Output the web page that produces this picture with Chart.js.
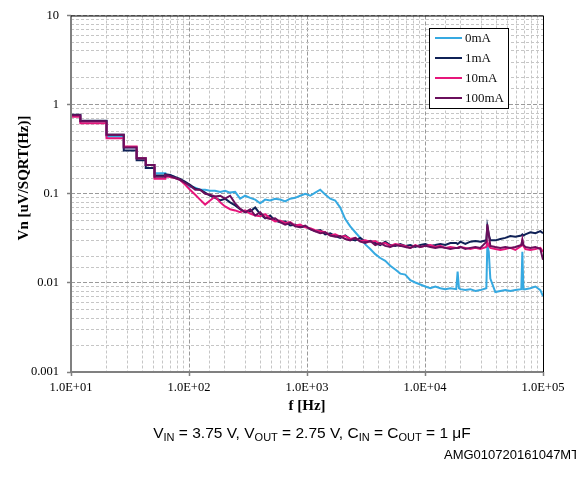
<!DOCTYPE html>
<html>
<head>
<meta charset="utf-8">
<script src="https://cdn.jsdelivr.net/npm/chart.js@4"></script>
<style>
  html, body { margin:0; padding:0; background:#fff; overflow:hidden; }
  #wrap { position:relative; width:576px; height:477px; }
  #cap { position:absolute; left:312px; top:424px; transform:translateX(-50%); white-space:nowrap;
         font-family:"Liberation Sans", Arial, sans-serif; font-size:15.5px; line-height:18px; color:#000; }
  #cap sub { font-size:11px; vertical-align:-3px; line-height:0; }
  #code { position:absolute; left:444px; top:447px; white-space:nowrap;
          font-family:"Liberation Sans", Arial, sans-serif; font-size:13px; line-height:15px; color:#000; }
</style>
</head>
<body>
<div id="wrap">
  <canvas id="c"></canvas>
  <div id="cap">V<sub>IN</sub> = 3.75 V, V<sub>OUT</sub> = 2.75 V, C<sub>IN</sub> = C<sub>OUT</sub> = 1 μF</div>
  <div id="code">AMG010720161047MT</div>
</div>
<script>
// ---- data ----
const seriesNames = ["0mA", "1mA", "10mA", "100mA"];
const seriesColors = ["#36A9E1", "#0F2156", "#E6167B", "#6A0F5C"];

const freq = [10, 12, 12, 20, 20, 28, 28, 36, 36, 43, 43, 51, 51, 63,
  63, 69, 76, 84, 93, 102, 113, 124, 137, 151,
  166, 184, 202, 223, 246, 271, 299, 330, 364, 401,
  442, 487, 537, 592, 653, 720, 794, 875, 966, 1065,
  1174, 1294, 1427, 1573, 1734, 1913, 2109, 2325, 2564, 2826,
  3116, 3436, 3788, 4177, 4605, 5078, 5598, 6172, 6805, 7503,
  8273, 9121, 10060, 11090, 12230, 13480, 14860, 16390,
  18400, 18900, 19400, 19920, 21960, 24210, 26700, 29430,
  33100, 33750, 34700, 35780, 39450, 43490, 47960, 52870, 58300,
  65500, 66850, 68200, 70870, 78130, 86150, 94980, 100000];

const vn0mA = [0.75, 0.75, 0.65, 0.65, 0.44, 0.44, 0.33, 0.33, 0.25, 0.25, 0.21, 0.21, 0.17, 0.17,
  0.162, 0.162, 0.154, 0.143, 0.132, 0.120, 0.117, 0.111, 0.111, 0.108,
  0.108, 0.105, 0.108, 0.103, 0.105, 0.088, 0.095, 0.090, 0.086, 0.078,
  0.086, 0.084, 0.088, 0.086, 0.082, 0.088, 0.090, 0.095, 0.100, 0.095,
  0.103, 0.111, 0.098, 0.088, 0.084, 0.070, 0.052, 0.043, 0.037, 0.032,
  0.027, 0.024, 0.021, 0.019, 0.0177, 0.0156, 0.0141, 0.0127, 0.0124, 0.0107,
  0.0101, 0.0096, 0.0091, 0.0087, 0.0091, 0.0087, 0.0085, 0.0087,
  0.0085, 0.0134, 0.0087, 0.0085, 0.0083, 0.0085, 0.0081, 0.0083,
  0.0087, 0.0266, 0.0223, 0.0112, 0.0079, 0.0081, 0.0083, 0.0081, 0.0083,
  0.0085, 0.0223, 0.0085, 0.0085, 0.0087, 0.0091, 0.0083, 0.0071];

const vn1mA = [0.77, 0.77, 0.66, 0.66, 0.46, 0.46, 0.305, 0.305, 0.238, 0.238, 0.194, 0.194, 0.16, 0.16,
  0.166, 0.162, 0.154, 0.147, 0.136, 0.126, 0.114, 0.111, 0.103, 0.095,
  0.090, 0.084, 0.088, 0.080, 0.074, 0.067, 0.062, 0.063, 0.070, 0.059,
  0.053, 0.057, 0.050, 0.048, 0.049, 0.044, 0.045, 0.042, 0.043, 0.040,
  0.038, 0.039, 0.035, 0.036, 0.0335, 0.032, 0.034, 0.031, 0.030, 0.032,
  0.029, 0.0295, 0.028, 0.0266, 0.029, 0.0266, 0.026, 0.0273, 0.026, 0.0266,
  0.0253, 0.0266, 0.0273, 0.026, 0.0266, 0.0273, 0.0266, 0.028,
  0.028, 0.0273, 0.028, 0.029, 0.0273, 0.029, 0.0295, 0.029,
  0.030, 0.043, 0.035, 0.030, 0.030, 0.031, 0.032, 0.0335, 0.033,
  0.034, 0.035, 0.034, 0.035, 0.037, 0.036, 0.038, 0.036];

const vn10mA = [0.73, 0.73, 0.62, 0.62, 0.42, 0.42, 0.34, 0.34, 0.25, 0.25, 0.21, 0.21, 0.147, 0.147,
  0.158, 0.154, 0.150, 0.143, 0.126, 0.111, 0.0975, 0.086, 0.0756, 0.084,
  0.093, 0.080, 0.072, 0.067, 0.065, 0.062, 0.065, 0.060, 0.057, 0.056,
  0.059, 0.053, 0.049, 0.050, 0.047, 0.048, 0.044, 0.045, 0.042, 0.041,
  0.039, 0.038, 0.037, 0.034, 0.035, 0.033, 0.0335, 0.031, 0.032, 0.0295,
  0.030, 0.029, 0.0295, 0.0273, 0.028, 0.026, 0.0273, 0.0266, 0.026, 0.0247,
  0.0266, 0.0253, 0.026, 0.0266, 0.0253, 0.026, 0.0247, 0.0253,
  0.0247, 0.0247, 0.0253, 0.0253, 0.0247, 0.024, 0.0247, 0.024,
  0.0253, 0.0288, 0.026, 0.0247, 0.024, 0.0234, 0.024, 0.0247, 0.0234,
  0.026, 0.0303, 0.026, 0.024, 0.0234, 0.024, 0.0247, 0.0223];

const vn100mA = [0.76, 0.76, 0.65, 0.65, 0.46, 0.46, 0.33, 0.33, 0.25, 0.25, 0.21, 0.21, 0.155, 0.155,
  0.162, 0.158, 0.150, 0.143, 0.132, 0.123, 0.111, 0.111, 0.100, 0.0975,
  0.093, 0.095, 0.088, 0.095, 0.078, 0.068, 0.062, 0.067, 0.057, 0.062,
  0.054, 0.052, 0.053, 0.048, 0.045, 0.047, 0.043, 0.042, 0.044, 0.040,
  0.038, 0.036, 0.037, 0.034, 0.033, 0.0335, 0.031, 0.030, 0.032, 0.029,
  0.028, 0.0295, 0.0266, 0.028, 0.026, 0.0253, 0.0266, 0.026, 0.0253, 0.0247,
  0.026, 0.0253, 0.026, 0.0253, 0.0247, 0.0253, 0.0247, 0.024,
  0.0247, 0.0247, 0.0247, 0.0253, 0.024, 0.0247, 0.0253, 0.0247,
  0.0288, 0.0454, 0.035, 0.026, 0.0253, 0.0247, 0.0253, 0.0247, 0.0253,
  0.0266, 0.0303, 0.0266, 0.0253, 0.0247, 0.0253, 0.024, 0.0182];

const xTickLabels = {10: "1.0E+01", 100: "1.0E+02", 1000: "1.0E+03", 10000: "1.0E+04", 100000: "1.0E+05"};
const yTickLabels = {"-3": "0.001", "-2": "0.01", "-1": "0.1", "0": "1", "1": "10"};
const xTitle = "f [Hz]";
const yTitle = "Vn [uV/SQRT(Hz)]";

// ---- chart ----
const allSeries = [vn0mA, vn1mA, vn10mA, vn100mA];
function isPow10(v) { const l = Math.log10(v); return Math.abs(l - Math.round(l)) < 1e-6; }

const SERIF = '"Liberation Serif", "Times New Roman", serif';

const decorPlugin = {
  id: 'decor',
  afterDraw(chart) {
    const ctx = chart.ctx, a = chart.chartArea;
    ctx.save();
    // axes
    ctx.strokeStyle = '#808080'; ctx.lineWidth = 2; ctx.setLineDash([]);
    ctx.beginPath(); ctx.moveTo(a.left, a.top); ctx.lineTo(a.left, a.bottom); ctx.lineTo(a.right, a.bottom); ctx.stroke();
    ctx.strokeStyle = '#000'; ctx.lineWidth = 1;
    ctx.beginPath(); ctx.moveTo(a.left, a.top + 0.5); ctx.lineTo(a.right + 0.5, a.top + 0.5); ctx.lineTo(a.right + 0.5, a.bottom); ctx.stroke();
    // titles
    ctx.fillStyle = '#000';
    ctx.font = 'bold 15px ' + SERIF;
    ctx.textAlign = 'center'; ctx.textBaseline = 'middle';
    ctx.fillText(xTitle, (a.left + a.right) / 2, 406);
    ctx.save(); ctx.translate(24.5, 178); ctx.rotate(-Math.PI / 2); ctx.fillText(yTitle, 0, 0); ctx.restore();
    // legend
    const lx = 429.5, ly = 28.5, lw = 79, lh = 80;
    ctx.fillStyle = '#fff'; ctx.fillRect(lx, ly, lw, lh);
    ctx.strokeStyle = '#000'; ctx.lineWidth = 1; ctx.strokeRect(lx, ly, lw, lh);
    ctx.font = '13px ' + SERIF; ctx.textAlign = 'left'; ctx.textBaseline = 'middle';
    chart.data.datasets.forEach((ds, i) => {
      const y = 38 + i * 20;
      ctx.strokeStyle = ds.borderColor; ctx.lineWidth = 2;
      ctx.beginPath(); ctx.moveTo(435, y); ctx.lineTo(462, y); ctx.stroke();
      ctx.fillStyle = '#111'; ctx.fillText(ds.label, 465, y + 0.5);
    });
    ctx.restore();
  }
};

const gridColor = c => (c.tick && isPow10(c.tick.value)) ? '#9a9a9a' : '#c6c6c6';
const gridDash = c => (c.tick && isPow10(c.tick.value)) ? [4, 2] : [3, 2];
const tickColor = c => (c.tick && isPow10(c.tick.value)) ? '#808080' : 'rgba(0,0,0,0)';

new Chart(document.getElementById('c'), {
  type: 'line',
  data: {
    datasets: allSeries.map((vals, i) => ({
      label: seriesNames[i],
      data: freq.map((f, k) => ({x: f, y: vals[k]})),
      borderColor: seriesColors[i],
      backgroundColor: seriesColors[i],
      borderWidth: 2,
      pointRadius: 0,
      tension: 0,
      fill: false,
      order: 4 - i
    }))
  },
  options: {
    responsive: true,
    maintainAspectRatio: false,
    animation: false,
    devicePixelRatio: 1,
    layout: { padding: { left: 0, top: 10, right: 33, bottom: 62 } },
    plugins: { legend: { display: false }, tooltip: { enabled: false } },
    scales: {
      x: {
        type: 'logarithmic', min: 10, max: 100000,
        afterFit: s => { s.height = 43; },
        grid: { color: gridColor, lineWidth: 1, drawTicks: true, tickLength: 4, tickColor: tickColor, tickWidth: 1.5 },
        border: { display: false, dash: gridDash },
        ticks: {
          autoSkip: false, maxRotation: 0, padding: 4, color: '#000',
          font: { family: SERIF, size: 12.5 },
          callback: v => isPow10(v) ? (xTickLabels[Math.round(v)] || '') : ''
        }
      },
      y: {
        type: 'logarithmic', min: 0.001, max: 10,
        afterFit: s => { s.width = 71; },
        grid: { color: gridColor, lineWidth: 1, drawTicks: true, tickLength: 4, tickColor: tickColor, tickWidth: 1.5 },
        border: { display: false, dash: gridDash },
        ticks: {
          autoSkip: false, padding: 8, color: '#000',
          font: { family: SERIF, size: 12.5 },
          callback: v => isPow10(v) ? (yTickLabels[String(Math.round(Math.log10(v)))] || '') : ''
        }
      }
    }
  },
  plugins: [decorPlugin]
});
</script>
</body>
</html>
